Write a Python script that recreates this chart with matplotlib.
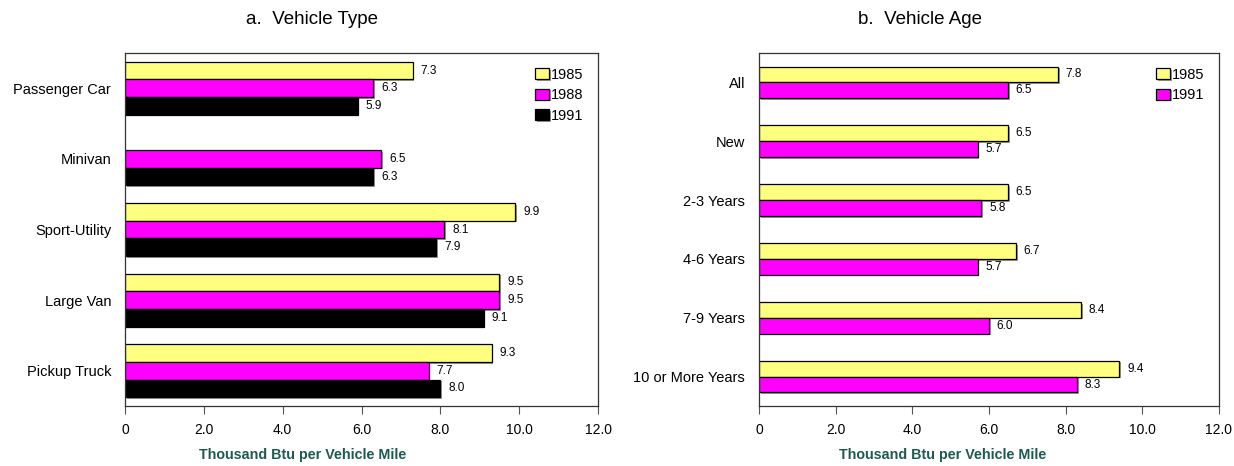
import matplotlib
matplotlib.use("Agg")
import matplotlib.pyplot as plt
import matplotlib.patheffects as pe
import numpy as np

plt.rcParams['font.family'] = ['Liberation Sans', 'DejaVu Sans']

# a. Vehicle Type
types = ['Passenger Car', 'Minivan', 'Sport-Utility', 'Large Van', 'Pickup Truck']
type_1985 = [7.3, np.nan, 9.9, 9.5, 9.3]
type_1988 = [6.3, 6.5, 8.1, 9.5, 7.7]
type_1991 = [5.9, 6.3, 7.9, 9.1, 8.0]

# b. Vehicle Age
ages = ['All', 'New', '2-3 Years', '4-6 Years', '7-9 Years', '10 or More Years']
age_1985 = [7.8, 6.5, 6.5, 6.7, 8.4, 9.4]
age_1991 = [6.5, 5.7, 5.8, 5.7, 6.0, 8.3]

xticks = [0, 2, 4, 6, 8, 10, 12]
xticklabels = ['0', '2.0', '4.0', '6.0', '8.0', '10.0', '12.0']

YELLOW = '#FFFF80'
MAGENTA = '#FF00FF'
BLACK = '#000000'
LABEL_COLOR = '#1E5A50'

fig = plt.figure(figsize=(12.34, 4.66), dpi=100)
ax1 = fig.add_axes([125 / 1234, 1 - 406 / 466, 473 / 1234, 353 / 466])
ax2 = fig.add_axes([759 / 1234, 1 - 406 / 466, 460 / 1234, 353 / 466])

shadow = [pe.SimplePatchShadow(offset=(1.2, -1.2), shadow_rgbFace='#808080', alpha=0.8), pe.Normal()]


def draw(ax, cats, series, h):
    y = np.arange(len(cats))
    n = len(series)
    for k, (vals, color, name) in enumerate(series):
        offs = (k - (n - 1) / 2) * h
        vals = np.array(vals, dtype=float)
        ok = ~np.isnan(vals)
        bars = ax.barh(y[ok] + offs, vals[ok], height=h, color=color,
                       edgecolor='black', linewidth=0.9, label=name)
        for b in bars:
            b.set_path_effects(shadow)
        for yy, v in zip(y[ok] + offs, vals[ok]):
            ax.text(v + 0.2, yy, f'{v:.1f}', va='center', ha='left', fontsize=8.5)
    ax.set_yticks(y)
    ax.set_yticklabels(cats, fontsize=10.5)
    ax.set_ylim(len(cats) - 0.5, -0.5)
    ax.set_xlim(0, 12)
    ax.set_xticks(xticks)
    ax.set_xticklabels(xticklabels, fontsize=10)
    ax.tick_params(axis='y', length=0, pad=10)
    ax.tick_params(axis='x', length=6, color='#555555', pad=6)
    for s in ax.spines.values():
        s.set_linewidth(0.9)
        s.set_color('#333333')
    ax.legend(loc='upper right', frameon=False, fontsize=10.5,
              handlelength=1.0, handleheight=0.8, handletextpad=0.1,
              labelspacing=0.45, borderaxespad=0.6)


draw(ax1, types, [(type_1985, YELLOW, '1985'), (type_1988, MAGENTA, '1988'),
                  (type_1991, BLACK, '1991')], 0.25)
draw(ax2, ages, [(age_1985, YELLOW, '1985'), (age_1991, MAGENTA, '1991')], 0.27)

fig.text(312 / 1234, 1 - 19 / 466, 'a.  Vehicle Type', ha='center', va='center', fontsize=13.5)
fig.text(920 / 1234, 1 - 19 / 466, 'b.  Vehicle Age', ha='center', va='center', fontsize=13.5)
fig.text(303 / 1234, 1 - 455 / 466, 'Thousand Btu per Vehicle Mile', ha='center', va='center',
         fontsize=10.3, fontweight='bold', color=LABEL_COLOR)
fig.text(943 / 1234, 1 - 455 / 466, 'Thousand Btu per Vehicle Mile', ha='center', va='center',
         fontsize=10.3, fontweight='bold', color=LABEL_COLOR)

fig.savefig('out.png', dpi=100)
